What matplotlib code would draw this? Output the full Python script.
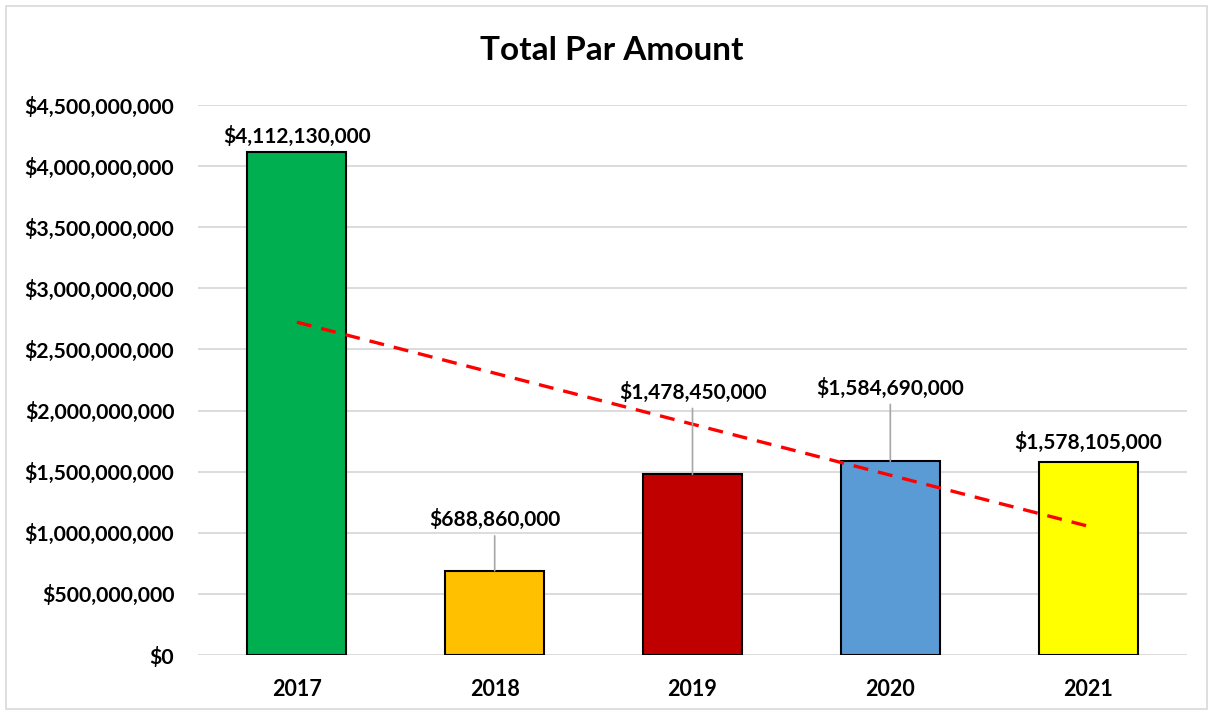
import numpy as np
import matplotlib
matplotlib.use("Agg")
import matplotlib.pyplot as plt
from matplotlib.ticker import FuncFormatter
from matplotlib.patches import Rectangle

years = ["2017", "2018", "2019", "2020", "2021"]
values = [4112130000, 688860000, 1478450000, 1584690000, 1578105000]
colors = ["#00B050", "#FFC000", "#C00000", "#5B9BD5", "#FFFF00"]
label_offsets_px = [16, 51, 82, 73, 20]
leader = [False, True, True, True, False]

plt.rcParams['font.family'] = ['Lato', 'DejaVu Sans']

fig = plt.figure(figsize=(12.13, 7.14), dpi=100)
ax = fig.add_axes([0.1632, 0.0826, 0.8154, 0.7704])

x = np.arange(len(years))
ax.bar(x, values, width=0.5, color=colors, edgecolor="black", linewidth=1.5, zorder=3)

# linear trendline
m, b = np.polyfit(x, values, 1)
ax.plot(x, m * x + b, color="#FF0000", linestyle=(0, (4.5, 3)), linewidth=2.4, zorder=4)

for i, v in enumerate(values):
    lbl = "${:,.0f}".format(v)
    kw = dict(xy=(x[i], v), xytext=(0, label_offsets_px[i]), textcoords="offset pixels",
              ha="center", va="center", fontsize=15, fontweight="bold", zorder=5)
    if leader[i]:
        kw["arrowprops"] = dict(arrowstyle="-", color="#A6A6A6", lw=1.2, shrinkA=2, shrinkB=0)
    ax.annotate(lbl, **kw)

ax.set_xlim(-0.5, 4.5)
ax.set_ylim(0, 4.5e9)
ax.set_yticks(np.arange(0, 4.5e9 + 1, 5e8))
ax.yaxis.set_major_formatter(FuncFormatter(lambda v, p: "${:,.0f}".format(v)))
ax.set_xticks(x)
ax.set_xticklabels(years)
for lab in ax.get_yticklabels():
    lab.set_fontweight("bold")
    lab.set_fontsize(15.3)
for lab in ax.get_xticklabels():
    lab.set_fontweight("bold")
    lab.set_fontsize(15.5)
ax.tick_params(axis="both", length=0)
ax.tick_params(axis="x", pad=17)
ax.tick_params(axis="y", pad=17)
ax.grid(axis="y", color="#D9D9D9", linewidth=1.3, zorder=0)
for s in ax.spines.values():
    s.set_visible(False)

fig.text(0.504, 0.929, "Total Par Amount", ha="center", va="center", fontsize=24, fontweight="bold")
fig.patches.append(Rectangle((0.005, 0.007), 0.99, 0.985, transform=fig.transFigure,
                             fill=False, edgecolor="#D9D9D9", linewidth=1.2))

fig.savefig("out.png", dpi=100)
